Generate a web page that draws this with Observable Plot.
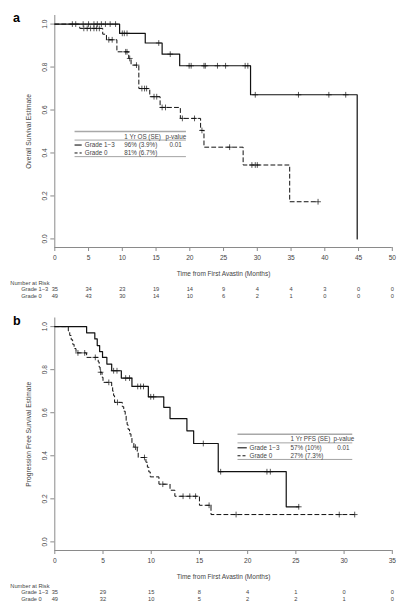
<!DOCTYPE html>
<html>
<head>
<meta charset="utf-8">
<script src="https://cdn.jsdelivr.net/npm/d3@7"></script>
<script src="https://cdn.jsdelivr.net/npm/@observablehq/plot@0.6"></script>
<style>
  html, body { margin: 0; padding: 0; background: #fff; }
  #chart > svg { display: block; }
</style>
</head>
<body>
<div id="chart"></div>
<script>
// ---------- data ----------
const groups = ["Grade 1−3", "Grade 0"];
const osTicks = [0, 5, 10, 15, 20, 25, 30, 35, 40, 45, 50];
const pfsTicks = [0, 5, 10, 15, 20, 25, 30, 35];
const yTicks = [0, 0.2, 0.4, 0.6, 0.8, 1.0];

// Overall survival, Grade 1-3 (event times, survival after event, censor times)
const osG13Time = [9.6, 13.4, 15.9, 18.5, 29.0, 44.8];
const osG13Surv = [0.957, 0.912, 0.860, 0.806, 0.671, 0];
const osG13Cens = [2.6, 3.1, 4.2, 5.0, 5.8, 6.3, 6.9, 7.5, 8.2, 9.0, 10.0, 10.3, 10.7, 15.4, 17.1, 19.9, 20.2, 22.1, 22.3, 24.1, 25.3, 28.2, 28.6, 29.7, 36.1, 40.6, 43.1];
// Overall survival, Grade 0
const osG0Time = [3.7, 7.1, 7.65, 9.2, 10.95, 11.3, 12.45, 14.07, 15.6, 18.6, 21.6, 22.1, 27.9, 34.8];
const osG0Surv = [0.98, 0.953, 0.927, 0.871, 0.84, 0.809, 0.70, 0.662, 0.612, 0.561, 0.505, 0.427, 0.344, 0.173];
const osG0Cens = [4.3, 4.8, 5.3, 5.8, 6.2, 6.6, 8.0, 8.5, 10.5, 10.7, 11.1, 12.1, 12.9, 13.3, 13.6, 14.7, 15.1, 15.9, 16.4, 18.9, 20.7, 21.8, 25.9, 29.2, 29.7, 30.0, 39.0];

// Progression free survival, Grade 1-3
const pfsG13Time = [3.3, 4.15, 4.4, 4.65, 4.95, 5.4, 5.9, 6.9, 8.0, 9.7, 11.3, 11.95, 13.7, 14.4, 16.95, 24.0];
const pfsG13Surv = [0.971, 0.943, 0.912, 0.884, 0.857, 0.826, 0.795, 0.761, 0.722, 0.674, 0.625, 0.573, 0.516, 0.457, 0.326, 0.163];
const pfsG13Cens = [6.1, 6.45, 7.35, 7.75, 8.6, 8.9, 9.2, 9.95, 10.25, 15.4, 17.2, 22.0, 22.35, 25.3];
// Progression free survival, Grade 0
const pfsG0Time = [1.4, 1.55, 1.7, 1.85, 2.0, 2.2, 3.3, 4.5, 4.6, 4.7, 4.9, 5.0, 5.9, 6.0, 6.1, 6.2, 7.0, 7.15, 7.3, 7.4, 7.5, 7.6, 7.75, 7.9, 8.0, 8.2, 8.55, 8.65, 9.45, 9.6, 9.75, 9.9, 10.8, 11.95, 12.45, 15.0, 16.2];
const pfsG0Surv = [0.98, 0.959, 0.939, 0.918, 0.898, 0.878, 0.857, 0.836, 0.812, 0.788, 0.765, 0.741, 0.72, 0.70, 0.679, 0.648, 0.628, 0.607, 0.586, 0.565, 0.544, 0.523, 0.502, 0.481, 0.46, 0.44, 0.416, 0.392, 0.37, 0.347, 0.325, 0.302, 0.268, 0.240, 0.212, 0.170, 0.127];
const pfsG0Cens = [2.4, 3.1, 4.2, 4.75, 5.6, 6.5, 8.37, 9.3, 11.2, 13.3, 14.0, 14.6, 16.0, 18.8, 29.5, 31.1];

// Number at risk
const osRiskG13 = [35, 34, 23, 19, 14, 9, 4, 4, 3, 0, 0];
const osRiskG0 = [49, 43, 30, 14, 10, 6, 2, 1, 0, 0, 0];
const pfsRiskG13 = [35, 29, 15, 8, 4, 1, 0, 0];
const pfsRiskG0 = [49, 32, 10, 5, 2, 2, 1, 0];

// Legend tables
const osHeader = ["1 Yr OS (SE)", "p-value"];
const osEst = ["96% (3.9%)", "81% (6.7%)"];
const pfsHeader = ["1 Yr PFS (SE)", "p-value"];
const pfsEst = ["57% (10%)", "27% (7.3%)"];
const pValue = "0.01";

// ---------- helpers ----------
const FONT = "'Liberation Sans', Arial, Helvetica, sans-serif";
const AXIS = "#8a8a8a";
const INK = "#111";
const TXT = "#444";

function kmPoints(times, surv, cens) {
  const end = Math.max(d3.max(cens), d3.max(times));
  const pts = [{t: 0, s: 1}];
  times.forEach((t, i) => pts.push({t, s: surv[i]}));
  pts.push({t: end, s: surv[surv.length - 1]});
  return pts;
}
function censPoints(times, surv, cens) {
  return cens.map(c => {
    let s = 1;
    times.forEach((t, i) => { if (t <= c) s = surv[i]; });
    return {t: c, s};
  });
}

function panel(cfg) {
  const H = 303, mL = 54.3, mR = 12.2, mB = 56, mT = cfg.marginTop;
  const frameW = 404 - mL - mR, frameH = H - mT - mB;
  const ticks = cfg.ticks;
  const lg = cfg.legend;
  const marks = [
    // axes
    Plot.ruleX([0], {stroke: AXIS, strokeWidth: 1}),
    Plot.ruleY([-0.04], {stroke: AXIS, strokeWidth: 1}),
    Plot.tickX(ticks, {x: d => d, insetTop: frameH, insetBottom: -4, stroke: AXIS}),
    Plot.tickY(yTicks, {y: d => d, insetLeft: -4, insetRight: frameW, stroke: AXIS}),
    Plot.text(ticks, {x: d => d, text: d => String(d), frameAnchor: "bottom", dy: 12.5, fontSize: 6.6, fill: TXT}),
    Plot.text(yTicks, {y: d => d, text: d => d3.format(".1f")(d), frameAnchor: "left", dx: -8, rotate: -90, textAnchor: "middle", lineAnchor: "bottom", fontSize: 6.6, fill: TXT}),
    Plot.text([cfg.yLabel], {text: d => d, frameAnchor: "left", dx: 28 - mL, rotate: -90, textAnchor: "middle", fontSize: 6.7, fill: TXT}),
    Plot.text(["Time from First Avastin (Months)"], {text: d => d, frameAnchor: "bottom", dy: 28.3, fontSize: 6.5, fill: TXT}),
    // panel letter
    Plot.text([cfg.letter], {text: d => d, frameAnchor: "top-left", dx: 12.5 - mL, dy: 12.3 - mT, textAnchor: "start", fontWeight: "bold", fontSize: 12.5, fill: "#000"}),
    // number at risk
    Plot.text(["Number at Risk"], {text: d => d, frameAnchor: "bottom-left", dx: 9.8 - mL, dy: 37.2, textAnchor: "start", fontSize: 5.7, fill: TXT}),
    Plot.text([groups[0]], {text: d => d, frameAnchor: "bottom-left", dx: 20.7 - mL, dy: 43.5, textAnchor: "start", fontSize: 5.7, fill: TXT}),
    Plot.text([groups[1]], {text: d => d, frameAnchor: "bottom-left", dx: 20.7 - mL, dy: 50.8, textAnchor: "start", fontSize: 5.7, fill: TXT}),
    Plot.text(ticks.map((t, i) => ({t, n: cfg.risk[0][i]})), {x: "t", text: d => String(d.n), frameAnchor: "bottom", dy: 43.5, fontSize: 5.7, fill: TXT}),
    Plot.text(ticks.map((t, i) => ({t, n: cfg.risk[1][i]})), {x: "t", text: d => String(d.n), frameAnchor: "bottom", dy: 50.8, fontSize: 5.7, fill: TXT}),
  ];
  // curves
  cfg.series.forEach(s => {
    marks.push(Plot.line(kmPoints(s.times, s.surv, s.cens), {x: "t", y: "s", curve: "step-after", stroke: INK, strokeWidth: s.dash ? 1.0 : 1.2, strokeDasharray: s.dash ? "4,3" : null}));
    marks.push(Plot.dot(censPoints(s.times, s.surv, s.cens), {x: "t", y: "s", symbol: "plus", r: 2.0, stroke: INK, strokeWidth: 0.7}));
  });
  // legend table
  const rows = [0.437, 0.40];
  marks.push(
    Plot.ruleY([0.5], {x1: lg.x0, x2: lg.x1, stroke: "#a8a8a8", strokeWidth: 1.3}),
    Plot.ruleY([0.46], {x1: lg.x0, x2: lg.x1, stroke: "#666", strokeWidth: 0.6}),
    Plot.ruleY([0.383], {x1: lg.x0, x2: lg.x1, stroke: "#666", strokeWidth: 0.6}),
    Plot.text([cfg.header[0]], {text: d => d, x: lg.est, y: 0.476, textAnchor: "start", fontSize: 6.3, fill: TXT}),
    Plot.text([cfg.header[1]], {text: d => d, x: lg.p, y: 0.476, textAnchor: "start", fontSize: 6.3, fill: TXT}),
    Plot.ruleY([rows[0]], {x1: lg.x0, x2: lg.seg, stroke: INK, strokeWidth: 1.1}),
    Plot.ruleY([rows[1]], {x1: lg.x0, x2: lg.seg, stroke: INK, strokeWidth: 1.0, strokeDasharray: "3,2"}),
    Plot.text(groups.map((g, i) => ({g, y: rows[i]})), {text: "g", x: lg.label, y: "y", textAnchor: "start", fontSize: 6.3, fill: TXT}),
    Plot.text(cfg.est.map((e, i) => ({e, y: rows[i]})), {text: "e", x: lg.est, y: "y", textAnchor: "start", fontSize: 6.3, fill: TXT}),
    Plot.text([pValue], {text: d => d, x: lg.pv, y: rows[0], textAnchor: "start", fontSize: 6.3, fill: TXT})
  );
  return Plot.plot({
    width: 404,
    height: H,
    marginLeft: mL,
    marginRight: mR,
    marginTop: mT,
    marginBottom: mB,
    x: {domain: [0, ticks[ticks.length - 1]], axis: null},
    y: {domain: [-0.04, 1.04], axis: null},
    style: {fontFamily: FONT, background: "#fff", color: TXT, overflow: "visible"},
    marks
  });
}

const chart = document.getElementById("chart");
chart.appendChild(panel({
  letter: "a", ticks: osTicks, marginTop: 15, yLabel: "Overall Survival Estimate",
  series: [
    {times: osG13Time, surv: osG13Surv, cens: osG13Cens, dash: false},
    {times: osG0Time, surv: osG0Surv, cens: osG0Cens, dash: true}
  ],
  risk: [osRiskG13, osRiskG0],
  header: osHeader, est: osEst,
  legend: {x0: 3.0, x1: 19.5, seg: 4.06, label: 4.44, est: 10.3, p: 16.4, pv: 17.0}
}));
chart.appendChild(panel({
  letter: "b", ticks: pfsTicks, marginTop: 14.5, yLabel: "Progression Free Survival Estimate",
  series: [
    {times: pfsG13Time, surv: pfsG13Surv, cens: pfsG13Cens, dash: false},
    {times: pfsG0Time, surv: pfsG0Surv, cens: pfsG0Cens, dash: true}
  ],
  risk: [pfsRiskG13, pfsRiskG0],
  header: pfsHeader, est: pfsEst,
  legend: {x0: 19.0, x1: 30.9, seg: 19.96, label: 20.2, est: 24.45, p: 28.9, pv: 29.3}
}));
</script>
</body>
</html>
